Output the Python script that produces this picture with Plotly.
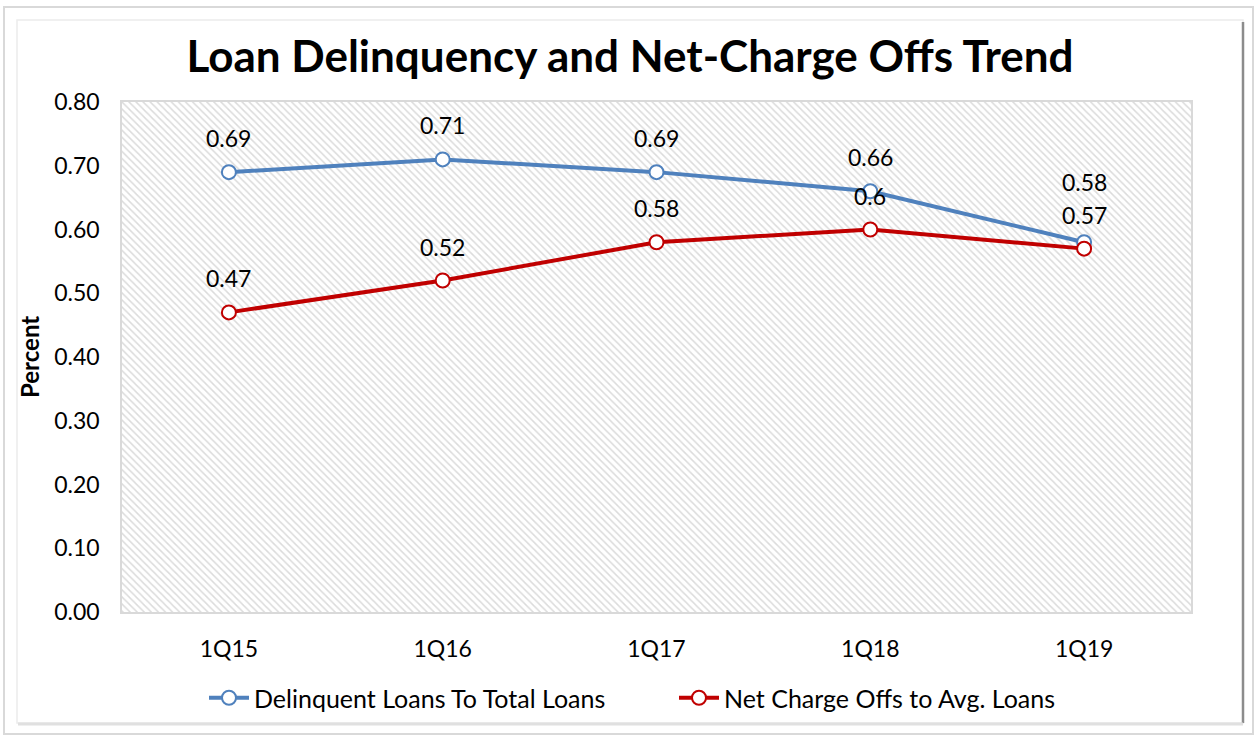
import plotly.graph_objects as go

categories = ["1Q15", "1Q16", "1Q17", "1Q18", "1Q19"]
delinquent = [0.69, 0.71, 0.69, 0.66, 0.58]
net_charge_offs = [0.47, 0.52, 0.58, 0.60, 0.57]
delinquent_labels = ["0.69", "0.71", "0.69", "0.66", "0.58"]
nco_labels = ["0.47", "0.52", "0.58", "0.6", "0.57"]
y_ticks = [0.0, 0.1, 0.2, 0.3, 0.4, 0.5, 0.6, 0.7, 0.8]

W, H = 1257, 736
L, R, T, B = 122, 1191, 102, 612
FONT = "Lato"
BLUE = "#4F81BD"
RED = "#C00000"

def px(xp):
    return (xp - L) / (R - L)

def py(yp):
    return (B - yp) / (B - T)

xs = list(range(len(categories)))
fig = go.Figure()

# hatched plot-area background
fig.add_trace(go.Bar(
    x=[(len(categories) - 1) / 2], y=[y_ticks[-1]], width=[len(categories)],
    marker=dict(color="white", line=dict(width=0),
                pattern=dict(shape="\\", fgcolor="#b8b8b8", bgcolor="white",
                             size=5, solidity=0.3, fillmode="overlay")),
    hoverinfo="skip", showlegend=False))

fig.add_trace(go.Scatter(
    x=xs, y=delinquent, mode="lines+markers", name="Delinquent Loans To Total Loans",
    line=dict(color=BLUE, width=4),
    marker=dict(size=14, color="white", line=dict(color=BLUE, width=2))))
fig.add_trace(go.Scatter(
    x=xs, y=net_charge_offs, mode="lines+markers", name="Net Charge Offs to Avg. Loans",
    line=dict(color=RED, width=4),
    marker=dict(size=14, color="white", line=dict(color=RED, width=2))))

annotations = []
blue_shift = [34, 34, 34, 34, 60]
for i, (v, t) in enumerate(zip(delinquent, delinquent_labels)):
    annotations.append(dict(x=xs[i], y=v, text=t, showarrow=False, yshift=blue_shift[i],
                            font=dict(family=FONT, size=23, color="black")))
for i, (v, t) in enumerate(zip(net_charge_offs, nco_labels)):
    annotations.append(dict(x=xs[i], y=v, text=t, showarrow=False, yshift=34,
                            font=dict(family=FONT, size=23, color="black")))

# Y axis title
annotations.append(dict(x=px(29), y=py(357), xref="paper", yref="paper", text="<b>Percent</b>",
                        textangle=-90, showarrow=False, xanchor="center", yanchor="middle",
                        font=dict(family=FONT, size=24, color="black")))

shapes = []
# vertical gridlines at category boundaries
for i in range(len(categories) - 1):
    shapes.append(dict(type="line", xref="x", yref="y", x0=i + 0.5, x1=i + 0.5,
                       y0=0, y1=y_ticks[-1], line=dict(color="#e2e2e2", width=1.5), layer="below"))
# outer frames
shapes.append(dict(type="rect", xref="paper", yref="paper", x0=px(4), x1=px(1253), y0=py(7), y1=py(734),
                   line=dict(color="#d9d9d9", width=2), layer="below"))
shapes.append(dict(type="rect", xref="paper", yref="paper", x0=px(17), x1=px(1243), y0=py(20), y1=py(723),
                   line=dict(color="#ececec", width=1.5), layer="below"))
shapes.append(dict(type="line", xref="paper", yref="paper", x0=px(1243), x1=px(1243), y0=py(22), y1=py(723),
                   line=dict(color="#8c8c8c", width=2.5)))
shapes.append(dict(type="line", xref="paper", yref="paper", x0=px(18), x1=px(1243), y0=py(724), y1=py(724),
                   line=dict(color="#e0e0e0", width=3)))

fig.update_layout(
    width=W, height=H,
    margin=dict(l=L, r=W - R, t=T, b=H - B),
    paper_bgcolor="white", plot_bgcolor="white",
    title=dict(text="<b>Loan Delinquency and Net-Charge Offs Trend</b>",
               x=630 / W, xanchor="center", y=1 - 57 / H, yanchor="middle",
               font=dict(family=FONT, size=44, color="black")),
    xaxis=dict(range=[-0.5, len(categories) - 0.5], tickvals=xs, ticktext=categories,
               showgrid=True, gridcolor="#e2e2e2", gridwidth=1.5, zeroline=False,
               showline=True, linecolor="#d9d9d9", linewidth=1.5, mirror=True, ticks="",
               tickfont=dict(family=FONT, size=23, color="black"), ticklabelstandoff=16),
    yaxis=dict(range=[0, y_ticks[-1]], tickvals=y_ticks, ticktext=[f"{v:.2f}" for v in y_ticks],
               showgrid=True, gridcolor="#e2e2e2", gridwidth=1.5, zeroline=False,
               showline=True, linecolor="#d9d9d9", linewidth=1.5, mirror=True, ticks="",
               tickfont=dict(family=FONT, size=23, color="black"), ticklabelstandoff=16),
    legend=dict(orientation="h", x=px(674), xanchor="center", y=py(698), yanchor="middle",
                font=dict(family=FONT, size=25, color="black"), bgcolor="rgba(0,0,0,0)",
                itemwidth=40, tracegroupgap=0, entrywidth=415),
    annotations=annotations, shapes=shapes, showlegend=True,
)

fig.write_html("out.html", config={"displayModeBar": False},
               post_script="document.body.style.margin='0';document.body.style.overflow='hidden';")
